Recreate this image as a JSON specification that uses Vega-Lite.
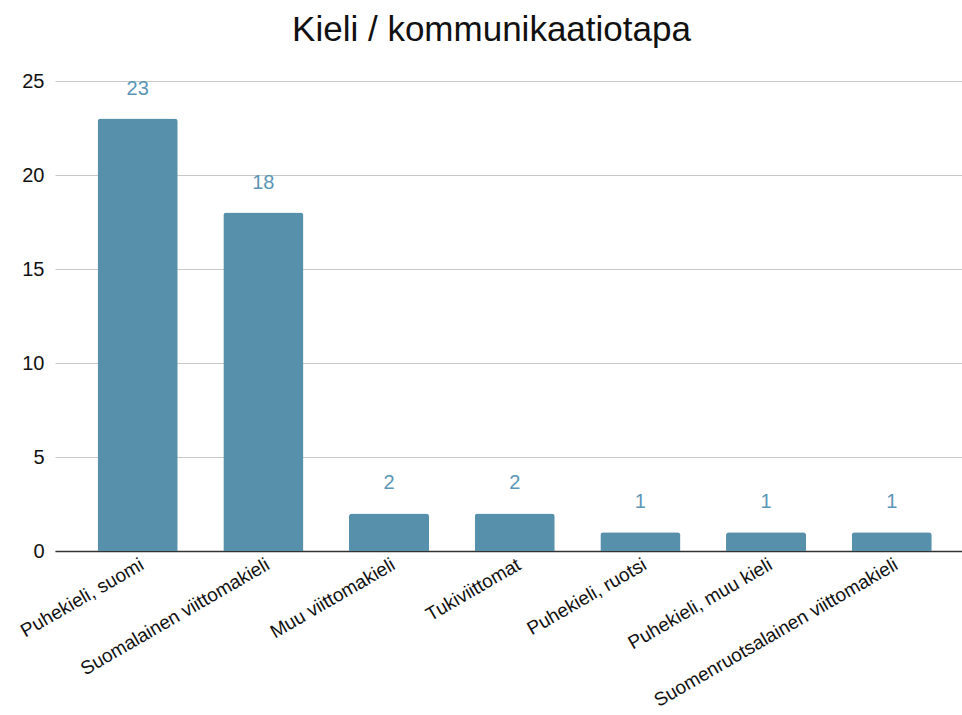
{
  "$schema": "https://vega.github.io/schema/vega-lite/v6.json",
  "autosize": "none",
  "width": 907,
  "height": 470,
  "padding": {"left": 55, "top": 81, "right": 0, "bottom": 164},
  "background": "white",
  "title": {"text": "Kieli / kommunikaatiotapa", "fontSize": 35, "font": "Liberation Sans", "fontWeight": "normal", "color": "#111", "anchor": "middle", "offset": 23, "dx": -17},
  "data": {"values": [
    {"kieli": "Puhekieli, suomi", "n": 23},
    {"kieli": "Suomalainen viittomakieli", "n": 18},
    {"kieli": "Muu viittomakieli", "n": 2},
    {"kieli": "Tukiviittomat", "n": 2},
    {"kieli": "Puhekieli, ruotsi", "n": 1},
    {"kieli": "Puhekieli, muu kieli", "n": 1},
    {"kieli": "Suomenruotsalainen viittomakieli", "n": 1}
  ]},
  "config": {"view": {"stroke": null}, "font": "Liberation Sans"},
  "encoding": {
    "x": {"field": "kieli", "type": "nominal", "sort": null,
      "scale": {"paddingInner": 0.363, "paddingOuter": 0.29, "align": 0.585},
      "axis": {"title": null, "labelAngle": -30, "labelAlign": "right", "labelBaseline": "top", "labelFontSize": 19, "labelColor": "#111", "ticks": false, "domainColor": "#333", "domainWidth": 1.5, "labelPadding": 4, "labelLimit": 400}},
    "y": {"field": "n", "type": "quantitative",
      "scale": {"domain": [0, 25], "nice": false},
      "axis": {"title": null, "values": [0, 5, 10, 15, 20, 25], "labelFontSize": 20, "labelColor": "#111", "ticks": false, "domain": false, "gridColor": "#c8c8c8", "gridWidth": 1, "labelPadding": 11}}
  },
  "layer": [
    {"mark": {"type": "bar", "color": "#5690ab", "cornerRadiusTopLeft": 3, "cornerRadiusTopRight": 3}},
    {"mark": {"type": "text", "color": "#5b96b6", "fontSize": 20, "baseline": "alphabetic", "dy": -24}, "encoding": {"text": {"field": "n", "type": "quantitative"}}}
  ]
}
